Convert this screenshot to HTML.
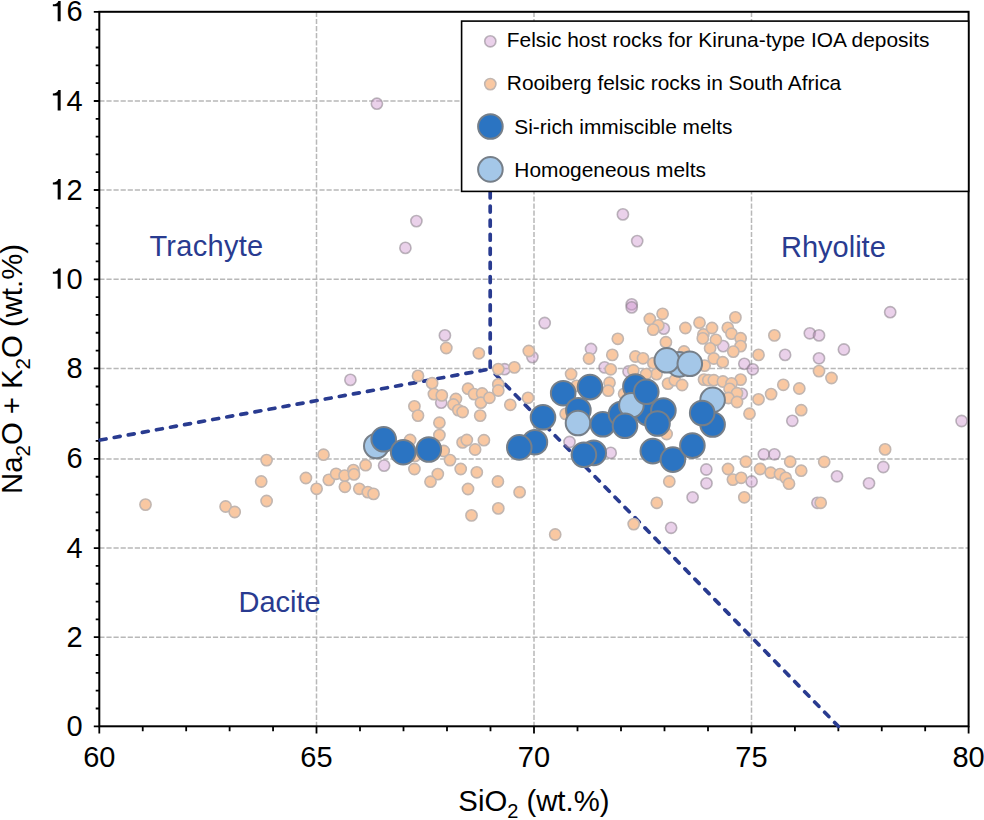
<!DOCTYPE html>
<html><head><meta charset="utf-8"><style>html,body{margin:0;padding:0;background:#fff;width:984px;height:820px;overflow:hidden}svg{display:block}</style></head>
<body><svg width="984" height="820" viewBox="0 0 984 820"><rect width="984" height="820" fill="#fff"/><path d="M316.5 11.8V726.3M534 11.8V726.3M751.5 11.8V726.3M99.3 637.2H968.6M99.3 548.1H968.6M99.3 458.9H968.6M99.3 368.4H968.6M99.3 279.3H968.6M99.3 190H968.6M99.3 101H968.6" stroke="#b8b8b8" stroke-width="1.5" stroke-dasharray="5.2 1.9" fill="none"/><g font-family="Liberation Sans, sans-serif" font-size="29" fill="#293b90"><text x="149.4" y="256.3" letter-spacing="0.3">Trachyte</text><text x="781" y="257.4">Rhyolite</text><text x="238.5" y="611.6">Dacite</text></g><rect x="99.3" y="11.8" width="869.3" height="714.5" fill="none" stroke="#000" stroke-width="2"/><path d="M99.3 726.3v7.3M142.74 726.3v5M186.18 726.3v5M229.62 726.3v5M273.06 726.3v5M316.5 726.3v7.3M360 726.3v5M403.5 726.3v5M447 726.3v5M490.5 726.3v5M534 726.3v7.3M577.5 726.3v5M621 726.3v5M664.5 726.3v5M708 726.3v5M751.5 726.3v7.3M794.92 726.3v5M838.34 726.3v5M881.76 726.3v5M925.18 726.3v5M968.6 726.3v7.3M99.3 726.3h-5.5M99.3 708.48h-3.6M99.3 690.66h-3.6M99.3 672.84h-3.6M99.3 655.02h-3.6M99.3 637.2h-5.5M99.3 619.38h-3.6M99.3 601.56h-3.6M99.3 583.74h-3.6M99.3 565.92h-3.6M99.3 548.1h-5.5M99.3 530.26h-3.6M99.3 512.42h-3.6M99.3 494.58h-3.6M99.3 476.74h-3.6M99.3 458.9h-5.5M99.3 440.8h-3.6M99.3 422.7h-3.6M99.3 404.6h-3.6M99.3 386.5h-3.6M99.3 368.4h-5.5M99.3 350.58h-3.6M99.3 332.76h-3.6M99.3 314.94h-3.6M99.3 297.12h-3.6M99.3 279.3h-5.5M99.3 261.44h-3.6M99.3 243.58h-3.6M99.3 225.72h-3.6M99.3 207.86h-3.6M99.3 190h-5.5M99.3 172.2h-3.6M99.3 154.4h-3.6M99.3 136.6h-3.6M99.3 118.8h-3.6M99.3 101h-5.5M99.3 83.16h-3.6M99.3 65.32h-3.6M99.3 47.48h-3.6M99.3 29.64h-3.6M99.3 11.8h-5.5" stroke="#000" stroke-width="1.8" fill="none"/><path d="M490.2 369L99.3 440.2" stroke="#293b90" stroke-width="3.7" stroke-linecap="round" fill="none" stroke-dasharray="6 8.3" stroke-dashoffset="-4.35"/><path d="M490.2 369V191.4" stroke="#293b90" stroke-width="3.7" stroke-linecap="round" fill="none" stroke-dasharray="6 8.1" stroke-dashoffset="-1.85"/><path d="M490.2 369L838.3 726.3" stroke="#293b90" stroke-width="3.7" stroke-linecap="round" fill="none" stroke-dasharray="6 8.3" stroke-dashoffset="-7.35"/><g fill="rgba(205,145,205,0.42)" stroke="rgba(135,125,135,0.55)" stroke-width="1.6"><circle cx="376.9" cy="103.7" r="5.6"/><circle cx="416.4" cy="221.1" r="5.6"/><circle cx="405.4" cy="247.9" r="5.6"/><circle cx="622.9" cy="214.4" r="5.6"/><circle cx="637.2" cy="241.1" r="5.6"/><circle cx="631.7" cy="304.4" r="5.6"/><circle cx="631.7" cy="307.4" r="5.6"/><circle cx="350.4" cy="379.9" r="5.6"/><circle cx="384.1" cy="465.6" r="5.6"/><circle cx="444.9" cy="335.4" r="5.6"/><circle cx="441.2" cy="402.7" r="5.6"/><circle cx="544.7" cy="323" r="5.6"/><circle cx="532.4" cy="357.1" r="5.6"/><circle cx="504.6" cy="369.2" r="5.6"/><circle cx="591" cy="349" r="5.6"/><circle cx="569.5" cy="442" r="5.6"/><circle cx="604.6" cy="367.4" r="5.6"/><circle cx="663.8" cy="328.6" r="5.6"/><circle cx="610.7" cy="452.9" r="5.6"/><circle cx="706.3" cy="469.5" r="5.6"/><circle cx="706.5" cy="483.3" r="5.6"/><circle cx="692.6" cy="497.3" r="5.6"/><circle cx="671.1" cy="527.8" r="5.6"/><circle cx="723.2" cy="346.1" r="5.6"/><circle cx="744.3" cy="363.8" r="5.6"/><circle cx="752.8" cy="369.3" r="5.6"/><circle cx="785.1" cy="354.9" r="5.6"/><circle cx="741.8" cy="393.8" r="5.6"/><circle cx="792.3" cy="420.8" r="5.6"/><circle cx="763.8" cy="454.3" r="5.6"/><circle cx="774.4" cy="454.3" r="5.6"/><circle cx="751.6" cy="481.5" r="5.6"/><circle cx="809.8" cy="333.3" r="5.6"/><circle cx="819" cy="335.4" r="5.6"/><circle cx="843.9" cy="349.5" r="5.6"/><circle cx="819" cy="358.3" r="5.6"/><circle cx="890.2" cy="312.2" r="5.6"/><circle cx="837" cy="476.3" r="5.6"/><circle cx="883.3" cy="467" r="5.6"/><circle cx="869" cy="483.3" r="5.6"/><circle cx="817.4" cy="502.8" r="5.6"/><circle cx="961.6" cy="421" r="5.6"/><circle cx="628.5" cy="371.5" r="5.6"/></g><g fill="#f9c8a2" stroke="#c2b6b0" stroke-width="1.6"><circle cx="145.5" cy="504.6" r="5.6"/><circle cx="225.6" cy="506.5" r="5.6"/><circle cx="234.7" cy="512" r="5.6"/><circle cx="266.6" cy="460.1" r="5.6"/><circle cx="261.2" cy="481.5" r="5.6"/><circle cx="266.6" cy="501" r="5.6"/><circle cx="305.9" cy="478" r="5.6"/><circle cx="316.6" cy="488.8" r="5.6"/><circle cx="323.5" cy="454.7" r="5.6"/><circle cx="328.8" cy="479.9" r="5.6"/><circle cx="336.1" cy="473.8" r="5.6"/><circle cx="344.6" cy="475.6" r="5.6"/><circle cx="353.4" cy="470.1" r="5.6"/><circle cx="354" cy="474.4" r="5.6"/><circle cx="365.6" cy="465.2" r="5.6"/><circle cx="344.9" cy="486.8" r="5.6"/><circle cx="359.3" cy="488.8" r="5.6"/><circle cx="367.8" cy="492.1" r="5.6"/><circle cx="373.5" cy="493.9" r="5.6"/><circle cx="446.3" cy="348" r="5.6"/><circle cx="478.8" cy="353.3" r="5.6"/><circle cx="498.3" cy="369.1" r="5.6"/><circle cx="418" cy="375.9" r="5.6"/><circle cx="432.1" cy="383.2" r="5.6"/><circle cx="433.9" cy="394.1" r="5.6"/><circle cx="441.8" cy="395.4" r="5.6"/><circle cx="455.9" cy="399" r="5.6"/><circle cx="453.4" cy="404.5" r="5.6"/><circle cx="414.4" cy="406.3" r="5.6"/><circle cx="468" cy="388.7" r="5.6"/><circle cx="474.1" cy="394.1" r="5.6"/><circle cx="482.1" cy="393.5" r="5.6"/><circle cx="480.9" cy="402.7" r="5.6"/><circle cx="489.4" cy="397.8" r="5.6"/><circle cx="498.3" cy="384.4" r="5.6"/><circle cx="498.3" cy="390.5" r="5.6"/><circle cx="418" cy="415.6" r="5.6"/><circle cx="439.4" cy="422.7" r="5.6"/><circle cx="439.4" cy="435.1" r="5.6"/><circle cx="458.3" cy="410.1" r="5.6"/><circle cx="462.6" cy="412" r="5.6"/><circle cx="480.2" cy="415.6" r="5.6"/><circle cx="462.6" cy="442.4" r="5.6"/><circle cx="466.8" cy="440" r="5.6"/><circle cx="483.9" cy="440.2" r="5.6"/><circle cx="475.1" cy="449.5" r="5.6"/><circle cx="443.7" cy="451" r="5.6"/><circle cx="450" cy="460.1" r="5.6"/><circle cx="410.1" cy="440" r="5.6"/><circle cx="415" cy="455.9" r="5.6"/><circle cx="414.4" cy="469" r="5.6"/><circle cx="437.8" cy="474.1" r="5.6"/><circle cx="430.5" cy="481.7" r="5.6"/><circle cx="460.7" cy="469" r="5.6"/><circle cx="476.8" cy="472.3" r="5.6"/><circle cx="497.9" cy="481.5" r="5.6"/><circle cx="468" cy="489" r="5.6"/><circle cx="498.3" cy="508.4" r="5.6"/><circle cx="471.5" cy="515.4" r="5.6"/><circle cx="528.8" cy="351" r="5.6"/><circle cx="514.4" cy="367.4" r="5.6"/><circle cx="571.1" cy="374.1" r="5.6"/><circle cx="589" cy="358.5" r="5.6"/><circle cx="528" cy="397.8" r="5.6"/><circle cx="565.6" cy="413.9" r="5.6"/><circle cx="576.6" cy="385.9" r="5.6"/><circle cx="519.6" cy="492.2" r="5.6"/><circle cx="555.2" cy="534.5" r="5.6"/><circle cx="510.3" cy="404.8" r="5.6"/><circle cx="684" cy="351.5" r="5.6"/><circle cx="649.8" cy="319" r="5.6"/><circle cx="662.6" cy="313.8" r="5.6"/><circle cx="658.3" cy="325.4" r="5.6"/><circle cx="653.2" cy="329.6" r="5.6"/><circle cx="685.4" cy="328" r="5.6"/><circle cx="699.5" cy="322.7" r="5.6"/><circle cx="617.8" cy="338.8" r="5.6"/><circle cx="665.9" cy="342.2" r="5.6"/><circle cx="703.4" cy="334.5" r="5.6"/><circle cx="702.8" cy="338.4" r="5.6"/><circle cx="612.3" cy="354.9" r="5.6"/><circle cx="635.4" cy="356.5" r="5.6"/><circle cx="643" cy="358.3" r="5.6"/><circle cx="610.7" cy="369.3" r="5.6"/><circle cx="633.3" cy="370.5" r="5.6"/><circle cx="656.5" cy="374.1" r="5.6"/><circle cx="646.1" cy="374.1" r="5.6"/><circle cx="653.4" cy="363.2" r="5.6"/><circle cx="609.5" cy="382.7" r="5.6"/><circle cx="608.2" cy="390.7" r="5.6"/><circle cx="668" cy="383.6" r="5.6"/><circle cx="674.8" cy="380.2" r="5.6"/><circle cx="682.1" cy="385" r="5.6"/><circle cx="624.1" cy="393.8" r="5.6"/><circle cx="666.6" cy="434" r="5.6"/><circle cx="669.3" cy="481.5" r="5.6"/><circle cx="656.8" cy="502.8" r="5.6"/><circle cx="633.7" cy="524.1" r="5.6"/><circle cx="735.4" cy="317.4" r="5.6"/><circle cx="712" cy="328" r="5.6"/><circle cx="727.8" cy="327.8" r="5.6"/><circle cx="731.5" cy="333.7" r="5.6"/><circle cx="715.9" cy="339.8" r="5.6"/><circle cx="740.6" cy="338.2" r="5.6"/><circle cx="740.6" cy="346.1" r="5.6"/><circle cx="710.1" cy="348.3" r="5.6"/><circle cx="733.3" cy="351.6" r="5.6"/><circle cx="713.8" cy="358.5" r="5.6"/><circle cx="722.7" cy="362.2" r="5.6"/><circle cx="704.6" cy="365.6" r="5.6"/><circle cx="758.5" cy="354.9" r="5.6"/><circle cx="774.4" cy="335.4" r="5.6"/><circle cx="704" cy="379.6" r="5.6"/><circle cx="708.3" cy="380.2" r="5.6"/><circle cx="713.8" cy="380.2" r="5.6"/><circle cx="722.9" cy="381.5" r="5.6"/><circle cx="740.6" cy="379.6" r="5.6"/><circle cx="731.5" cy="383.4" r="5.6"/><circle cx="729.6" cy="388.9" r="5.6"/><circle cx="737" cy="393.2" r="5.6"/><circle cx="728.4" cy="398" r="5.6"/><circle cx="737" cy="402" r="5.6"/><circle cx="749.5" cy="413.7" r="5.6"/><circle cx="758.5" cy="399.3" r="5.6"/><circle cx="771.1" cy="394.1" r="5.6"/><circle cx="783.3" cy="384.8" r="5.6"/><circle cx="799.3" cy="388.5" r="5.6"/><circle cx="745.9" cy="461.7" r="5.6"/><circle cx="790.2" cy="461.7" r="5.6"/><circle cx="728" cy="469" r="5.6"/><circle cx="732.9" cy="479.6" r="5.6"/><circle cx="741.2" cy="477.8" r="5.6"/><circle cx="744.3" cy="497.3" r="5.6"/><circle cx="760.1" cy="469" r="5.6"/><circle cx="770.7" cy="472.7" r="5.6"/><circle cx="780" cy="474.1" r="5.6"/><circle cx="785.7" cy="477.8" r="5.6"/><circle cx="789" cy="483.7" r="5.6"/><circle cx="801.2" cy="410.2" r="5.6"/><circle cx="819" cy="371.1" r="5.6"/><circle cx="831.5" cy="378" r="5.6"/><circle cx="885.1" cy="449.4" r="5.6"/><circle cx="824.2" cy="461.8" r="5.6"/><circle cx="801.2" cy="470.7" r="5.6"/><circle cx="820.7" cy="502.8" r="5.6"/></g><circle cx="376.3" cy="446" r="12.3" fill="#a4c7e8" stroke="#767f89" stroke-width="2"/><circle cx="383.7" cy="439.3" r="12.3" fill="#2b74c2" stroke="#767f89" stroke-width="2"/><circle cx="403.2" cy="452.2" r="12.3" fill="#2b74c2" stroke="#767f89" stroke-width="2"/><circle cx="428.8" cy="449.5" r="12.3" fill="#2b74c2" stroke="#767f89" stroke-width="2"/><circle cx="534.9" cy="442.2" r="12.3" fill="#2b74c2" stroke="#767f89" stroke-width="2"/><circle cx="519.3" cy="447.4" r="12.3" fill="#2b74c2" stroke="#767f89" stroke-width="2"/><circle cx="543" cy="417.3" r="12.3" fill="#2b74c2" stroke="#767f89" stroke-width="2"/><circle cx="563.2" cy="393.2" r="12.3" fill="#2b74c2" stroke="#767f89" stroke-width="2"/><circle cx="590" cy="387.1" r="12.3" fill="#2b74c2" stroke="#767f89" stroke-width="2"/><circle cx="578.4" cy="410.2" r="12.3" fill="#2b74c2" stroke="#767f89" stroke-width="2"/><circle cx="578" cy="423" r="12.3" fill="#a4c7e8" stroke="#767f89" stroke-width="2"/><circle cx="602.8" cy="424.3" r="12.3" fill="#2b74c2" stroke="#767f89" stroke-width="2"/><circle cx="593.7" cy="452.9" r="12.3" fill="#2b74c2" stroke="#767f89" stroke-width="2"/><circle cx="583.9" cy="454.8" r="12.3" fill="#2b74c2" stroke="#767f89" stroke-width="2"/><circle cx="679.3" cy="364.4" r="12.3" fill="#a4c7e8" stroke="#767f89" stroke-width="2"/><circle cx="666.8" cy="360.3" r="12.3" fill="#a4c7e8" stroke="#767f89" stroke-width="2"/><circle cx="689.8" cy="363.8" r="12.3" fill="#a4c7e8" stroke="#767f89" stroke-width="2"/><circle cx="635.4" cy="386.6" r="12.3" fill="#2b74c2" stroke="#767f89" stroke-width="2"/><circle cx="647.6" cy="413.1" r="12.3" fill="#2b74c2" stroke="#767f89" stroke-width="2"/><circle cx="621" cy="414" r="12.3" fill="#2b74c2" stroke="#767f89" stroke-width="2"/><circle cx="631.4" cy="405.3" r="12.3" fill="#a4c7e8" stroke="#767f89" stroke-width="2"/><circle cx="646.3" cy="391.8" r="12.3" fill="#2b74c2" stroke="#767f89" stroke-width="2"/><circle cx="663.4" cy="410.5" r="12.3" fill="#2b74c2" stroke="#767f89" stroke-width="2"/><circle cx="657.5" cy="423.5" r="12.3" fill="#2b74c2" stroke="#767f89" stroke-width="2"/><circle cx="625" cy="425.8" r="12.3" fill="#2b74c2" stroke="#767f89" stroke-width="2"/><circle cx="712.6" cy="399.9" r="12.3" fill="#a4c7e8" stroke="#767f89" stroke-width="2"/><circle cx="712.6" cy="424.5" r="12.3" fill="#2b74c2" stroke="#767f89" stroke-width="2"/><circle cx="702.2" cy="413" r="12.3" fill="#2b74c2" stroke="#767f89" stroke-width="2"/><circle cx="652.8" cy="451.1" r="12.3" fill="#2b74c2" stroke="#767f89" stroke-width="2"/><circle cx="672.9" cy="459.6" r="12.3" fill="#2b74c2" stroke="#767f89" stroke-width="2"/><circle cx="692.4" cy="445.6" r="12.3" fill="#2b74c2" stroke="#767f89" stroke-width="2"/><g font-family="Liberation Sans, sans-serif" font-size="29" fill="#000"><text x="99.3" y="766.9" text-anchor="middle">60</text><text x="316.5" y="766.9" text-anchor="middle">65</text><text x="534" y="766.9" text-anchor="middle">70</text><text x="751.5" y="766.9" text-anchor="middle">75</text><text x="968.6" y="766.9" text-anchor="middle">80</text><text x="82.6" y="735.8" text-anchor="end">0</text><text x="82.6" y="646.7" text-anchor="end">2</text><text x="82.6" y="557.6" text-anchor="end">4</text><text x="82.6" y="468.4" text-anchor="end">6</text><text x="82.6" y="377.9" text-anchor="end">8</text><text x="82.6" y="288.8" text-anchor="end">0</text><text x="82.6" y="199.5" text-anchor="end">2</text><text x="82.6" y="110.5" text-anchor="end">4</text><text x="82.6" y="21.3" text-anchor="end">6</text></g><path d="M60.65 288.8L60.65 268.41L58.33 268.41Q57.31 271.84 52.85 271.84L52.85 273.72L57.66 273.72L57.66 288.8ZM60.65 199.5L60.65 179.11L58.33 179.11Q57.31 182.53 52.85 182.53L52.85 184.42L57.66 184.42L57.66 199.5ZM60.65 110.5L60.65 90.11L58.33 90.11Q57.31 93.53 52.85 93.53L52.85 95.42L57.66 95.42L57.66 110.5ZM60.65 21.3L60.65 0.91L58.33 0.91Q57.31 4.33 52.85 4.33L52.85 6.22L57.66 6.22L57.66 21.3Z" fill="#000"/><text font-family="Liberation Sans, sans-serif" font-size="29.3" x="533.9" y="810.7" text-anchor="middle">SiO<tspan font-size="20" dy="7">2</tspan><tspan dy="-7"> (wt.%)</tspan></text><text font-family="Liberation Sans, sans-serif" font-size="29.3" transform="translate(21.9 369) rotate(-90)" text-anchor="middle">Na<tspan font-size="20.5" dy="7.8">2</tspan><tspan dy="-7.8">O + K</tspan><tspan font-size="20.5" dy="7.8">2</tspan><tspan dy="-7.8">O (wt.%)</tspan></text><rect x="461.6" y="21.1" width="507" height="170.3" fill="#fff" stroke="#000" stroke-width="1.6"/><circle cx="490.3" cy="41.3" r="5.6" fill="rgba(205,145,205,0.42)" stroke="rgba(135,125,135,0.55)" stroke-width="1.6"/><circle cx="490.3" cy="84.1" r="5.6" fill="#f9c8a2" stroke="#c2b6b0" stroke-width="1.6"/><circle cx="490.4" cy="126.5" r="12.3" fill="#2b74c2" stroke="#767f89" stroke-width="2"/><circle cx="490.4" cy="169.4" r="12.3" fill="#a4c7e8" stroke="#767f89" stroke-width="2"/><g font-family="Liberation Sans, sans-serif" font-size="20.9" fill="#000"><text x="506.8" y="47.4">Felsic host rocks for Kiruna-type IOA deposits</text><text x="506.8" y="90.4">Rooiberg felsic rocks in South Africa</text><text x="514.3" y="133.6">Si-rich immiscible melts</text><text x="514.3" y="176.5">Homogeneous melts</text></g></svg></body></html>
